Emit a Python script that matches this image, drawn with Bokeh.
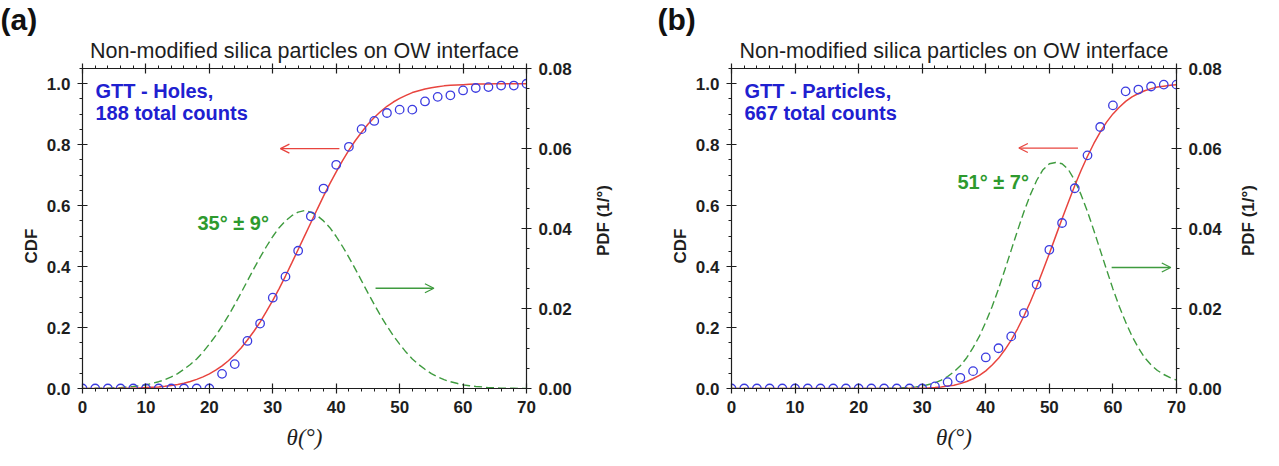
from math import pi
from bokeh.plotting import figure
from bokeh.models import (Range1d, LinearAxis, Label, Arrow, OpenHead, Title,
                          SingleIntervalTicker, NumeralTickFormatter, CustomJSTickFormatter)
from bokeh.layouts import row
from bokeh.embed import file_html
from bokeh.resources import INLINE

# ---------------- data ----------------
theta_pts = [0, 2, 4, 6, 8, 10, 12, 14, 16, 18, 20, 22, 24, 26, 28, 30, 32, 34,
             36, 38, 40, 42, 44, 46, 48, 50, 52, 54, 56, 58, 60, 62, 64, 66, 68, 70]

theta_fit = [0, 1, 2, 3, 4, 5, 6, 7, 8, 9, 10, 11, 12, 13, 14, 15, 16, 17, 18, 19,
             20, 21, 22, 23, 24, 25, 26, 27, 28, 29, 30, 31, 32, 33, 34, 35, 36, 37, 38, 39,
             40, 41, 42, 43, 44, 45, 46, 47, 48, 49, 50, 51, 52, 53, 54, 55, 56, 57, 58, 59,
             60, 61, 62, 63, 64, 65, 66, 67, 68, 69, 70]

# (a) GTT - Holes
cdf_a_pts = [0, 0, 0, 0, 0, 0, 0, 0, 0, 0, 0,
             0.048, 0.080, 0.156, 0.213, 0.298, 0.367, 0.452, 0.565, 0.656, 0.734,
             0.793, 0.851, 0.878, 0.904, 0.915, 0.915, 0.942, 0.957, 0.962, 0.978,
             0.986, 0.989, 0.994, 0.994, 1.000]
cdf_a_fit = [0.000, 0.000, 0.000, 0.000, 0.000, 0.000, 0.001, 0.001, 0.001, 0.002,
             0.003, 0.004, 0.005, 0.007, 0.010, 0.013, 0.017, 0.023, 0.030, 0.038,
             0.048, 0.060, 0.074, 0.091, 0.111, 0.133, 0.159, 0.187, 0.218, 0.253,
             0.289, 0.328, 0.369, 0.412, 0.456, 0.500, 0.544, 0.588, 0.631, 0.672,
             0.711, 0.748, 0.782, 0.813, 0.841, 0.867, 0.889, 0.909, 0.926, 0.940,
             0.952, 0.962, 0.971, 0.977, 0.983, 0.987, 0.990, 0.993, 0.995, 0.996,
             0.997, 0.998, 0.999, 0.999, 0.999, 1.000, 1.000, 1.000, 1.000, 1.000,
             1.000]
pdf_a_fit = [0.0000, 0.0000, 0.0001, 0.0001, 0.0001, 0.0002, 0.0002, 0.0004, 0.0005, 0.0007,
             0.0009, 0.0013, 0.0017, 0.0022, 0.0029, 0.0037, 0.0048, 0.0060, 0.0074, 0.0091,
             0.0111, 0.0132, 0.0156, 0.0182, 0.0210, 0.0239, 0.0269, 0.0299, 0.0328, 0.0355,
             0.0380, 0.0402, 0.0419, 0.0432, 0.0441, 0.0445, 0.0441, 0.0432, 0.0419, 0.0402,
             0.0380, 0.0355, 0.0328, 0.0299, 0.0269, 0.0239, 0.0210, 0.0182, 0.0156, 0.0132,
             0.0111, 0.0091, 0.0074, 0.0060, 0.0048, 0.0037, 0.0029, 0.0022, 0.0017, 0.0013,
             0.0009, 0.0007, 0.0005, 0.0004, 0.0002, 0.0002, 0.0001, 0.0001, 0.0001, 0.0000,
             0.0000]

# (b) GTT - Particles
cdf_b_pts = [0, 0, 0, 0, 0, 0, 0, 0, 0, 0, 0, 0, 0, 0, 0, 0,
             0.007, 0.021, 0.035, 0.057, 0.102, 0.132, 0.171, 0.247, 0.341, 0.455,
             0.543, 0.657, 0.765, 0.858, 0.929, 0.975, 0.981, 0.991, 0.997, 0.997]
cdf_b_fit = [0.000, 0.000, 0.000, 0.000, 0.000, 0.000, 0.000, 0.000, 0.000, 0.000,
             0.000, 0.000, 0.000, 0.000, 0.000, 0.000, 0.000, 0.000, 0.000, 0.000,
             0.000, 0.000, 0.000, 0.000, 0.000, 0.000, 0.000, 0.000, 0.001, 0.001,
             0.001, 0.002, 0.003, 0.005, 0.008, 0.011, 0.016, 0.023, 0.032, 0.043,
             0.058, 0.077, 0.099, 0.127, 0.159, 0.196, 0.238, 0.284, 0.334, 0.388,
             0.443, 0.500, 0.557, 0.612, 0.666, 0.716, 0.762, 0.804, 0.841, 0.874,
             0.901, 0.923, 0.942, 0.957, 0.968, 0.977, 0.984, 0.989, 0.992, 0.995,
             0.997]
pdf_b_fit = [0.0000, 0.0000, 0.0000, 0.0000, 0.0000, 0.0000, 0.0000, 0.0000, 0.0000, 0.0000,
             0.0000, 0.0000, 0.0000, 0.0000, 0.0000, 0.0000, 0.0000, 0.0000, 0.0000, 0.0000,
             0.0000, 0.0000, 0.0000, 0.0000, 0.0000, 0.0001, 0.0001, 0.0002, 0.0003, 0.0004,
             0.0006, 0.0010, 0.0014, 0.0021, 0.0030, 0.0042, 0.0057, 0.0077, 0.0102, 0.0131,
             0.0166, 0.0205, 0.0249, 0.0297, 0.0346, 0.0395, 0.0442, 0.0484, 0.0520, 0.0547,
             0.0562, 0.0565, 0.0562, 0.0547, 0.0520, 0.0484, 0.0442, 0.0395, 0.0346, 0.0297,
             0.0249, 0.0205, 0.0166, 0.0131, 0.0102, 0.0077, 0.0059, 0.0045, 0.0035, 0.0027,
             0.0021]

title_text = "Non-modified silica particles on OW interface"
pdf_label_text = "PDF (1/°)"

# ---------------- style ----------------
SANS = "Liberation Sans"
SERIF = "Liberation Serif"
INK = "#1e1e1e"
BLUE = "#3c3ce0"
TXT_BLUE = "#2020d0"
RED = "#e8443e"
GREEN = "#3f9b3f"
TXT_GREEN = "#2e9a2e"

H = 458
B_TOP, B_BOTTOM = 65, 70
B_RIGHT = 58
FH = H - B_TOP - B_BOTTOM


def style_axis(ax, ticker, fmt, labels=True):
    ax.ticker = ticker
    if labels:
        ax.formatter = NumeralTickFormatter(format=fmt)
        ax.major_label_text_font_size = "17px"
        ax.major_label_standoff = 7
    else:
        ax.formatter = CustomJSTickFormatter(code="return ''")
        ax.major_label_text_font_size = "0px"
        ax.major_label_standoff = 0
    ax.axis_line_color = INK
    ax.axis_line_width = 1.2
    ax.major_tick_line_color = INK
    ax.major_tick_line_width = 1.2
    ax.minor_tick_line_color = INK
    ax.minor_tick_line_width = 1
    ax.major_tick_in = 5
    ax.major_tick_out = 5
    ax.minor_tick_in = 0
    ax.minor_tick_out = 3
    ax.major_label_text_font = SANS
    ax.major_label_text_font_style = "bold"
    ax.major_label_text_color = INK
    ax.axis_label_text_font = SANS
    ax.axis_label_text_font_style = "bold"
    ax.axis_label_text_font_size = "17px"
    ax.axis_label_text_color = INK


def frame_label(p, x, y, text, size, color):
    p.add_layout(Label(x=x, y=y, x_units="screen", y_units="screen", text=text,
                       text_font=SANS, text_font_size=size, text_font_style="bold",
                       text_color=color, text_align="left", text_baseline="middle"))


def panel(letter, cdf_pts, cdf_fit, pdf_fit, name1, name2, stat, stat_xy,
          red_arrow, green_arrow, width, b_left, letter_x, fw):
    p = figure(width=width, height=H, output_backend="svg", toolbar_location=None,
               title=None, x_range=Range1d(0, 70), y_range=Range1d(0, 1.05),
               min_border_left=b_left, min_border_right=width - b_left - fw,
               min_border_top=B_TOP, min_border_bottom=B_BOTTOM,
               background_fill_color="white", border_fill_color="white")
    p.extra_y_ranges = {"pdf": Range1d(0, 0.08)}
    p.xgrid.visible = False
    p.ygrid.visible = False
    p.outline_line_color = None

    xa = p.xaxis[0]
    style_axis(xa, SingleIntervalTicker(interval=10, num_minor_ticks=5), "0")
    xa.axis_label = "θ(°)"
    xa.axis_label_text_font = SERIF
    xa.axis_label_text_font_style = "italic"
    xa.axis_label_text_font_size = "23px"
    xa.axis_label_standoff = 9

    ya = p.yaxis[0]
    style_axis(ya, SingleIntervalTicker(interval=0.2, num_minor_ticks=4), "0.0")
    ya.axis_label = "CDF"
    ya.axis_label_standoff = 12
    try:
        ya.axis_label_orientation = pi / 2
    except Exception:
        pass

    right = LinearAxis(y_range_name="pdf")
    style_axis(right, SingleIntervalTicker(interval=0.02, num_minor_ticks=4), "0.00")
    p.add_layout(right, "right")

    top = LinearAxis()
    style_axis(top, SingleIntervalTicker(interval=10, num_minor_ticks=5), None, labels=False)
    p.add_layout(top, "above")
    p.add_layout(Title(text=title_text, align="center", text_font=SANS,
                       text_font_size="21.5px", text_font_style="normal",
                       text_color=INK, standoff=2), "above")
    p.add_layout(Title(text=letter, align="left", offset=-(b_left - letter_x), text_font=SANS,
                       text_font_size="30px", text_font_style="bold",
                       text_color="#111111", standoff=0), "above")

    p.line(theta_fit, pdf_fit, y_range_name="pdf", line_color=GREEN,
           line_width=1.4, line_dash="8 4")
    p.line(theta_fit, cdf_fit, line_color=RED, line_width=1.5)
    p.scatter(theta_pts, cdf_pts, marker="circle", size=8.5, fill_color=None,
              line_color=BLUE, line_width=1.3)

    for (x0, x1, yy), col in ((red_arrow, RED), (green_arrow, GREEN)):
        p.add_layout(Arrow(end=OpenHead(size=9, line_color=col, line_width=1.3),
                           x_start=x0, y_start=yy, x_end=x1, y_end=yy,
                           line_color=col, line_width=1.3))

    frame_label(p, 13, FH - 25, name1, "20px", TXT_BLUE)
    frame_label(p, 13, FH - 47, name2, "20px", TXT_BLUE)
    frame_label(p, stat_xy[0], stat_xy[1], stat, "20px", TXT_GREEN)
    return p


def side_label(width, cx):
    """Narrow strip carrying the rotated right-hand axis title (reads bottom-to-top)."""
    s = figure(width=width, height=H, output_backend="svg", toolbar_location=None,
               title=None, x_range=Range1d(0, 1), y_range=Range1d(0, 1),
               min_border=0, x_axis_type=None, y_axis_type=None,
               background_fill_color="white", border_fill_color="white")
    s.grid.visible = False
    s.outline_line_color = None
    # the row aligns this strip's frame with the panels' frames (bottom at y = 388)
    s.add_layout(Label(x=cx, y=388 - 220, x_units="screen", y_units="screen",
                       text=pdf_label_text, angle=pi / 2, text_font=SANS,
                       text_font_size="17px", text_font_style="bold", text_color=INK,
                       text_align="center", text_baseline="middle"))
    return s


W1 = 82 + 444 + B_RIGHT          # ends at 584
S1 = 36                           # 584..620
B2 = 731 - (W1 + S1)              # left border of panel (b)
W2 = B2 + 445 + B_RIGHT
S2 = 30

p1 = panel("(a)", cdf_a_pts, cdf_a_fit, pdf_a_fit, "GTT - Holes,", "188 total counts",
           "35° ± 9°", (115, 166), (40.5, 31.2, 0.787), (46.2, 55.4, 0.329), W1, 82, 0, 444)
s1 = side_label(S1, 603 - W1)
p2 = panel("(b)", cdf_b_pts, cdf_b_fit, pdf_b_fit, "GTT - Particles,", "667 total counts",
           "51° ± 7°", (226, 207), (54.5, 45.2, 0.789), (59.8, 69.1, 0.397), W2, B2,
           657 - (W1 + S1), 445)
s2 = side_label(S2, 1248 - (W1 + S1 + W2))

layout = row(p1, s1, p2, s2)
open("out.html", "w").write(file_html(layout, INLINE))
